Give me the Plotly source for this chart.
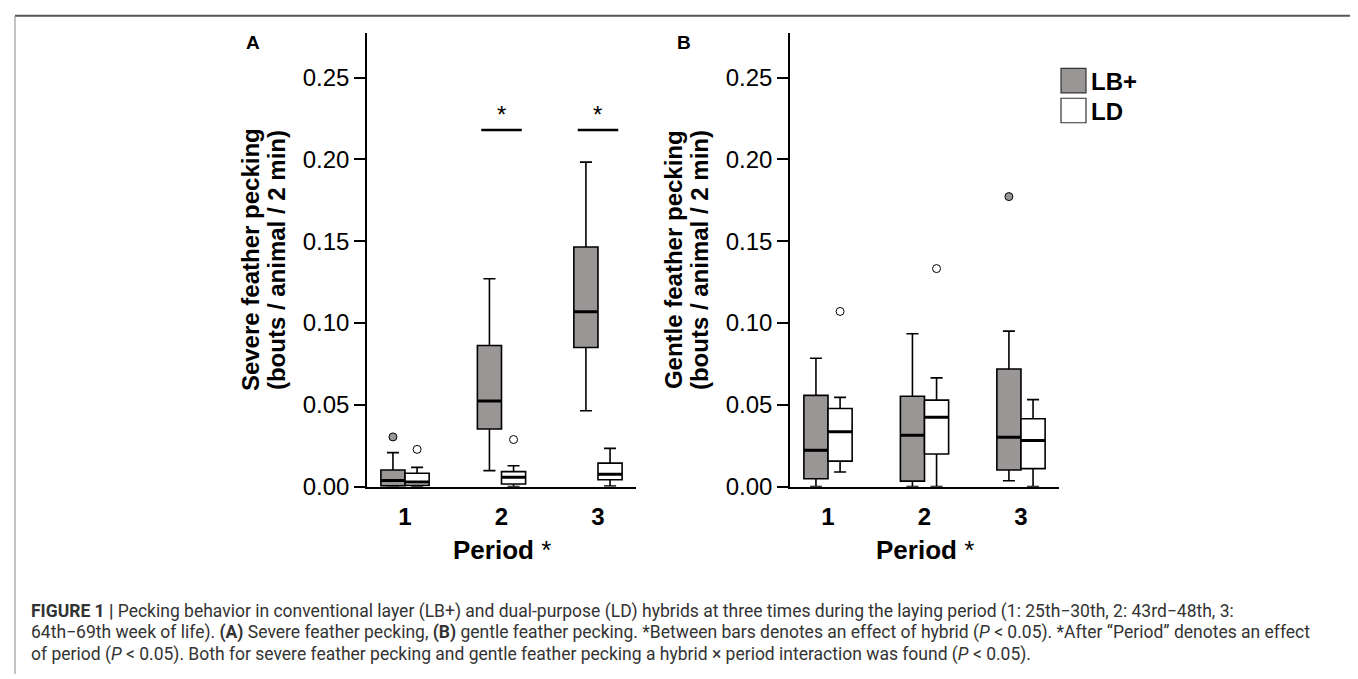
import plotly.graph_objects as go

# ---------------- data ----------------
periods = [1, 2, 3]
hybrids = ["LB+", "LD"]

# Panel A: severe feather pecking (bouts / animal / 2 min)
A_lb_low = [0.0000, 0.0098, 0.0464]
A_lb_q1 = [0.0005, 0.0352, 0.0851]
A_lb_med = [0.0038, 0.0523, 0.1069]
A_lb_q3 = [0.0102, 0.0863, 0.1465]
A_lb_high = [0.0208, 0.1271, 0.1984]
A_lb_out_x = [1]
A_lb_out_y = [0.0304]

A_ld_low = [0.0000, 0.0000, 0.0004]
A_ld_q1 = [0.0008, 0.0016, 0.0042]
A_ld_med = [0.0028, 0.0058, 0.0076]
A_ld_q3 = [0.0082, 0.0092, 0.0144]
A_ld_high = [0.0118, 0.0128, 0.0234]
A_ld_out_x = [1, 2]
A_ld_out_y = [0.0228, 0.0288]

# Panel B: gentle feather pecking
B_lb_low = [0.0000, 0.0000, 0.0036]
B_lb_q1 = [0.0048, 0.0034, 0.0102]
B_lb_med = [0.0222, 0.0314, 0.0302]
B_lb_q3 = [0.0558, 0.0553, 0.0719]
B_lb_high = [0.0785, 0.0935, 0.0951]
B_lb_out_x = [3]
B_lb_out_y = [0.1773]

B_ld_low = [0.0090, 0.0000, 0.0000]
B_ld_q1 = [0.0156, 0.0200, 0.0110]
B_ld_med = [0.0336, 0.0424, 0.0282]
B_ld_q3 = [0.0478, 0.0529, 0.0415]
B_ld_high = [0.0546, 0.0665, 0.0532]
B_ld_out_x = [1, 2]
B_ld_out_y = [0.1071, 0.1333]

sig_periods_A = [2, 3]
sig_y = 0.218

y_ticks = [0.00, 0.05, 0.10, 0.15, 0.20, 0.25]

y_title_A = ["Severe feather pecking", "(bouts / animal / 2 min)"]
y_title_B = ["Gentle feather pecking", "(bouts / animal / 2 min)"]
x_title = "<b>Period</b> *"

caption_lines = [
    "<b>FIGURE 1 |</b> Pecking behavior in conventional layer (LB+) and dual-purpose (LD) hybrids at three times during the laying period (1: 25th\u221230th, 2: 43rd\u221248th, 3:",
    "64th\u221269th week of life). <b>(A)</b> Severe feather pecking, <b>(B)</b> gentle feather pecking. *Between bars denotes an effect of hybrid (<i>P</i> &lt; 0.05). *After \u201cPeriod\u201d denotes an effect",
    "of period (<i>P</i> &lt; 0.05). Both for severe feather pecking and gentle feather pecking a hybrid \u00d7 period interaction was found (<i>P</i> &lt; 0.05).",
]

# ---------------- style ----------------
W, H = 1358, 679
GRAY = "#9b9696"
OFF = 0.125
BW = 0.25
FONT = "Liberation Sans, Arial, sans-serif"
CAP_FONT = "Roboto, Liberation Sans, sans-serif"

fig = go.Figure()


def add_panel(xa, ya, lb, ld):
    for stats, fill, sign, name in ((lb, GRAY, -1, "LB+"), (ld, "white", 1, "LD")):
        low, q1, med, q3, high, ox, oy = stats
        xs = [p + sign * OFF for p in periods]
        fig.add_trace(go.Box(
            x=xs, q1=q1, median=med, q3=q3, lowerfence=low, upperfence=high,
            width=BW, whiskerwidth=0.5, fillcolor=fill,
            line=dict(color="black", width=1.6), boxpoints=False,
            name=name, showlegend=False, xaxis=xa, yaxis=ya, hoverinfo="skip",
        ))
        # thicker median lines
        mx, my = [], []
        for x, m in zip(xs, med):
            mx += [x - BW / 2, x + BW / 2, None]
            my += [m, m, None]
        fig.add_trace(go.Scatter(
            x=mx, y=my, mode="lines", line=dict(color="black", width=3),
            showlegend=False, xaxis=xa, yaxis=ya, hoverinfo="skip",
        ))
        fig.add_trace(go.Scatter(
            x=[p + sign * OFF for p in ox], y=oy, mode="markers",
            marker=dict(size=8, color=fill, line=dict(color="black", width=1)),
            showlegend=False, xaxis=xa, yaxis=ya, hoverinfo="skip",
        ))


add_panel("x", "y",
          (A_lb_low, A_lb_q1, A_lb_med, A_lb_q3, A_lb_high, A_lb_out_x, A_lb_out_y),
          (A_ld_low, A_ld_q1, A_ld_med, A_ld_q3, A_ld_high, A_ld_out_x, A_ld_out_y))
add_panel("x2", "y2",
          (B_lb_low, B_lb_q1, B_lb_med, B_lb_q3, B_lb_high, B_lb_out_x, B_lb_out_y),
          (B_ld_low, B_ld_q1, B_ld_med, B_ld_q3, B_ld_high, B_ld_out_x, B_ld_out_y))

shapes = []
annotations = []

# significance bars
for p in sig_periods_A:
    shapes.append(dict(type="line", xref="x", yref="y", x0=p - 0.21, x1=p + 0.21,
                       y0=sig_y, y1=sig_y, line=dict(color="black", width=2.5)))
    annotations.append(dict(xref="x", yref="y", x=p, y=sig_y, text="*", showarrow=False,
                            yanchor="bottom", yshift=0, font=dict(size=24, color="black", family=FONT)))

ydom = [1 - 488 / H, 1 - 25 / H]
axis_common = dict(showgrid=False, zeroline=False, showline=True, linecolor="black", linewidth=1.5)
xcommon = dict(axis_common, range=[0.606, 3.394], tickvals=periods, ticktext=[f"<b>{p}</b>" for p in periods],
               ticks="", ticklabelstandoff=8, tickfont=dict(size=24, color="black", family=FONT))
ycommon = dict(axis_common, range=[0, 0.2776], tickvals=y_ticks, ticktext=[f"{v:.2f}" for v in y_ticks],
               ticks="outside", ticklen=11, tickwidth=1.5, tickcolor="black",
               tickfont=dict(size=24, color="black", family=FONT))

fig.update_layout(
    width=W, height=H,
    margin=dict(l=0, r=0, t=0, b=0),
    paper_bgcolor="white", plot_bgcolor="white",
    showlegend=False,
    xaxis=dict(xcommon, domain=[359 / W, 628 / W], anchor="y"),
    yaxis=dict(ycommon, domain=ydom, anchor="x"),
    xaxis2=dict(xcommon, domain=[782 / W, 1051 / W], anchor="y2"),
    yaxis2=dict(ycommon, domain=ydom, anchor="x2"),
)

# axis titles as annotations
for lines, xs in ((y_title_A, (242, 268)), (y_title_B, (665, 691))):
    for txt, xp in zip(lines, xs):
        annotations.append(dict(xref="paper", yref="paper", x=xp / W, y=1 - 257 / H, text=f"<b>{txt}</b>",
                                textangle=-90, showarrow=False, xanchor="center", yanchor="middle",
                                font=dict(size=24, color="black", family=FONT)))
for xc in ((359 + 628) / 2, (782 + 1051) / 2):
    annotations.append(dict(xref="paper", yref="paper", x=xc / W, y=1 - 553 / H, text=x_title,
                            showarrow=False, xanchor="center", yanchor="middle",
                            font=dict(size=26, color="black", family=FONT)))

# frame
shapes += [
    dict(type="line", xref="paper", yref="paper", x0=7 / W, x1=1352 / W, y0=1 - 8 / H, y1=1 - 8 / H,
         line=dict(color="#555555", width=2)),
    dict(type="line", xref="paper", yref="paper", x0=7 / W, x1=7 / W, y0=0, y1=1 - 8 / H,
         line=dict(color="#888888", width=1)),
    dict(type="line", xref="paper", yref="paper", x0=1352 / W, x1=1352 / W, y0=0, y1=1 - 8 / H,
         line=dict(color="#888888", width=1)),
]

# legend (drawn)
leg_items = [("LB+", GRAY, 74), ("LD", "white", 104.5)]
for name, fill, yc in leg_items:
    shapes.append(dict(type="rect", xref="paper", yref="paper",
                       x0=1053 / W, x1=1078 / W, y0=1 - (yc + 12.5) / H, y1=1 - (yc - 12.5) / H,
                       line=dict(color="#333333", width=1.2), fillcolor=fill))
    annotations.append(dict(xref="paper", yref="paper", x=1081 / W, y=1 - (yc + 1) / H, text=f"<b>{name}</b>",
                            showarrow=False, xanchor="left", yanchor="middle",
                            font=dict(size=24, color="black", family=FONT)))

# panel letters
for letter, xp in (("A", 245), ("B", 676)):
    annotations.append(dict(xref="paper", yref="paper", x=xp / W, y=1 - 35 / H, text=f"<b>{letter}</b>",
                            showarrow=False, xanchor="center", yanchor="middle",
                            font=dict(size=19, color="black", family=FONT)))

# caption
for i, line in enumerate(caption_lines):
    annotations.append(dict(xref="paper", yref="paper", x=21 / W, y=1 - (615 + 22 * i) / H, text=line,
                            showarrow=False, xanchor="left", yanchor="middle", align="left",
                            font=dict(size=17.5, color="#333333", family=CAP_FONT)))

fig.update_layout(shapes=shapes, annotations=annotations)
fig.write_html("out.html")
